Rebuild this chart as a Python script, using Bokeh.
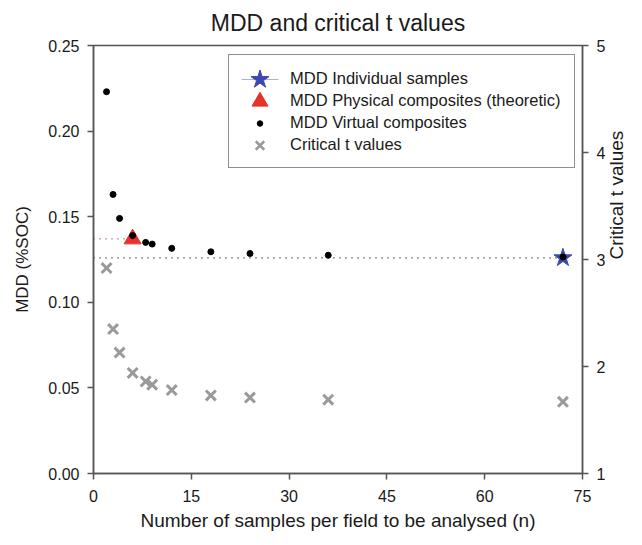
import math
from bokeh.plotting import figure
from bokeh.models import (Range1d, LinearAxis, FixedTicker, Legend,
                          LegendItem, NumeralTickFormatter)
from bokeh.embed import file_html
from bokeh.resources import INLINE

# ---------------- data ----------------
n_virtual = [2, 3, 4, 6, 8, 9, 12, 18, 24, 36, 72]
mdd_virtual = [0.223, 0.163, 0.149, 0.139, 0.135, 0.134, 0.1315, 0.1295, 0.1285, 0.1275, 0.1265]
n_physical = [6]
mdd_physical = [0.137]
n_individual = [72]
mdd_individual = [0.126]
n_t = [2, 3, 4, 6, 8, 9, 12, 18, 24, 36, 72]
t_crit = [2.92, 2.35, 2.13, 1.94, 1.86, 1.83, 1.78, 1.73, 1.71, 1.69, 1.67]
x_ticks = [0, 15, 30, 45, 60, 75]
y_ticks = [0.0, 0.05, 0.10, 0.15, 0.20, 0.25]
t_ticks = [1, 2, 3, 4, 5]
legend_labels = ["MDD Individual samples", "MDD Physical composites (theoretic)",
                 "MDD Virtual composites", "Critical t values"]

FONT = "Liberation Sans"
AXC = "#555555"
TXT = "#1a1a1a"

FL, FR, FT, FB = 93, 60, 45, 72
W, H = 642, 545
FW, FH = W - FL - FR, H - FT - FB
XMAX, YMAX = 75, 0.25

p = figure(width=W, height=H, output_backend="svg", toolbar_location=None,
           x_range=Range1d(0, XMAX), y_range=Range1d(0, YMAX),
           min_border_left=FL, min_border_right=FR,
           min_border_top=FT, min_border_bottom=FB,
           title="MDD and critical t values")
p.title.align = "center"
p.title.vertical_align = "top"
p.title.text_font = FONT
p.title.text_font_size = "23px"
p.title.text_font_style = "normal"
p.title.text_color = TXT
p.title.standoff = 15

p.extra_y_ranges = {"t": Range1d(1, 5)}
p.xgrid.visible = False
p.ygrid.visible = False
p.outline_line_color = AXC
p.outline_line_width = 1.5
p.background_fill_color = "white"
p.border_fill_color = "white"

p.xaxis.ticker = FixedTicker(ticks=x_ticks)
p.yaxis.ticker = FixedTicker(ticks=y_ticks)
p.yaxis.formatter = NumeralTickFormatter(format="0.00")
p.yaxis.axis_label = "MDD (%SOC)"
p.xaxis.axis_label = "Number of samples per field to be analysed (n)"

raxis = LinearAxis(y_range_name="t", ticker=FixedTicker(ticks=t_ticks),
                   axis_label="Critical t values")
p.add_layout(raxis, "right")

for ax in [p.xaxis[0], p.yaxis[0], raxis]:
    ax.axis_line_color = AXC
    ax.axis_line_width = 1.5
    ax.major_tick_line_color = AXC
    ax.major_tick_line_width = 1.5
    ax.major_tick_out = 6
    ax.major_tick_in = 0
    ax.minor_tick_out = 0
    ax.minor_tick_in = 0
    ax.major_label_text_font = FONT
    ax.major_label_text_font_size = "16px"
    ax.major_label_text_color = TXT
    ax.major_label_standoff = 8
    ax.axis_label_text_font = FONT
    ax.axis_label_text_font_style = "normal"
    ax.axis_label_text_color = TXT
p.xaxis.major_label_standoff = 10
p.yaxis.axis_label_text_font_size = "17px"
p.yaxis.axis_label_standoff = 13
p.xaxis.axis_label_text_font_size = "19px"
p.xaxis.axis_label_standoff = 5
raxis.axis_label_text_font_size = "19px"
raxis.axis_label_standoff = 8
if hasattr(raxis, "axis_label_orientation"):
    raxis.axis_label_orientation = math.pi / 2

# ---------------- marks ----------------
p.line([0, n_physical[0]], [mdd_physical[0], mdd_physical[0]],
       line_color="#8a3f3f", line_width=1.2, line_dash="1 5")
p.line([0, n_individual[0]], [mdd_individual[0], mdd_individual[0]],
       line_color="#111111", line_width=1.2, line_dash="1 5")

STAR_C, TRI_C, DOT_C, X_C = "#3d48b0", "#e5322a", "#000000", "#9a9a9a"

p.scatter(n_t, t_crit, marker="x", size=14, line_color=X_C,
          line_width=3, y_range_name="t")
p.scatter(n_physical, mdd_physical, marker="triangle", size=17,
          fill_color=TRI_C, line_color=TRI_C)
p.scatter(n_individual, mdd_individual, marker="star", size=19,
          fill_color=STAR_C, line_color=STAR_C)
p.scatter(n_virtual, mdd_virtual, marker="circle", size=6,
          fill_color=DOT_C, line_color=DOT_C)

# ---------------- legend (box + labels by Bokeh, keys drawn at legend rows) ----------------
LEG_X, LEG_Y = 135, 305          # bottom-left of legend box, relative to frame
PAD, GW, GH, SPC = 13, 37, 20, 2
n_items = len(legend_labels)
leg_h = 2 * PAD + n_items * GH + (n_items - 1) * SPC

dummies = [p.scatter([], [], marker="circle", size=1, fill_alpha=0, line_alpha=0)
           for _ in legend_labels]
legend = Legend(items=[LegendItem(label=lab, renderers=[r])
                       for lab, r in zip(legend_labels, dummies)],
                location=(LEG_X, LEG_Y))
legend.border_line_color = "#222222"
legend.border_line_width = 1.2
legend.background_fill_color = "white"
legend.background_fill_alpha = 0
legend.label_text_font = FONT
legend.label_text_font_size = "16.5px"
legend.label_text_color = TXT
legend.glyph_width = GW
legend.glyph_height = GH
legend.label_height = GH
legend.label_standoff = 11
legend.padding = PAD
legend.spacing = SPC
legend.margin = 0
p.add_layout(legend, "center")


def sx_to_x(sx):
    return sx / FW * XMAX


def sy_to_y(sy_from_bottom):
    return sy_from_bottom / FH * YMAX


key_cx = LEG_X + PAD + GW / 2
key_x0, key_x1 = LEG_X + PAD, LEG_X + PAD + GW
rows = [LEG_Y + leg_h - PAD - GH / 2 - i * (GH + SPC) for i in range(n_items)]

keys = [
    p.line([sx_to_x(key_x0), sx_to_x(key_x1)], [sy_to_y(rows[0])] * 2,
           line_color="#aab0dd", line_width=1.2),
    p.scatter([sx_to_x(key_cx)], [sy_to_y(rows[0])], marker="star", size=19,
              fill_color=STAR_C, line_color=STAR_C),
    p.scatter([sx_to_x(key_cx)], [sy_to_y(rows[1])], marker="triangle", size=16,
              fill_color=TRI_C, line_color=TRI_C),
    p.scatter([sx_to_x(key_cx)], [sy_to_y(rows[2])], marker="circle", size=5.5,
              fill_color=DOT_C, line_color=DOT_C),
    p.scatter([sx_to_x(key_cx)], [sy_to_y(rows[3])], marker="x", size=12,
              line_color=X_C, line_width=2.5),
]
for k in keys:
    k.level = "overlay"

open("out.html", "w").write(file_html(p, INLINE))
